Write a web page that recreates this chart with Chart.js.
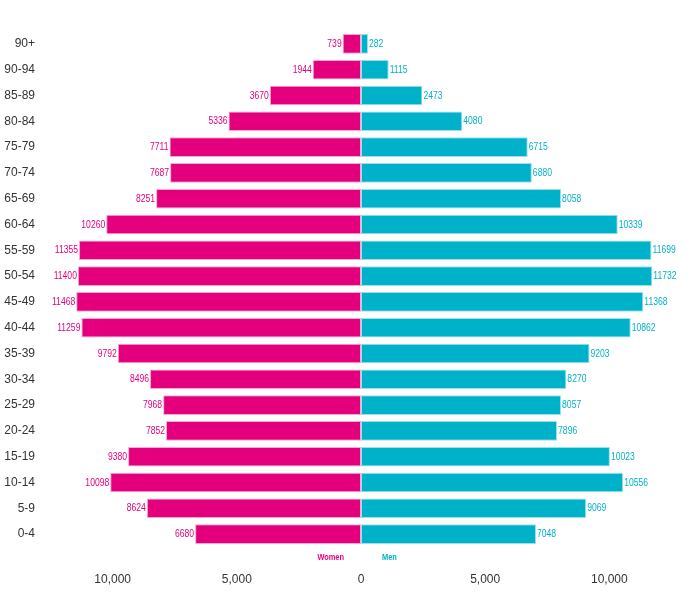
<!DOCTYPE html>
<html>
<head>
<meta charset="utf-8">
<script src="https://cdn.jsdelivr.net/npm/chart.js@4"></script>
<style>
html,body{margin:0;padding:0;background:#fff;}
#wrap{width:688px;height:595px;}
</style>
</head>
<body>
<div id="wrap"><canvas id="c" width="688" height="595"></canvas></div>
<script>
const ageGroups = ["90+","90-94","85-89","80-84","75-79","70-74","65-69","60-64","55-59","50-54","45-49","40-44","35-39","30-34","25-29","20-24","15-19","10-14","5-9","0-4"];
const women = [739,1944,3670,5336,7711,7687,8251,10260,11355,11400,11468,11259,9792,8496,7968,7852,9380,10098,8624,6680];
const men = [282,1115,2473,4080,6715,6880,8058,10339,11699,11732,11368,10862,9203,8270,8057,7896,10023,10556,9069,7048];
const xTicks = [-10000,-5000,0,5000,10000];
const seriesNames = ["Women","Men"];

const PINK = "#e4007c";
const TEAL = "#00b2c9";
const FONT = "'Liberation Sans Narrow','Arial Narrow','Liberation Sans',Arial,sans-serif";
const SQ = 0.78; // horizontal squeeze for condensed look of drawn labels

function narrowText(ctx, text, x, y, align) {
  ctx.save();
  ctx.translate(x, y);
  ctx.scale(SQ, 1);
  ctx.textAlign = align;
  ctx.fillText(text, 0, 0);
  ctx.restore();
}

const labelPlugin = {
  id: 'barLabels',
  afterDatasetsDraw(chart) {
    const ctx = chart.ctx;
    ctx.save();
    ctx.font = "11px " + FONT;
    ctx.textBaseline = 'middle';
    chart.data.datasets.forEach((ds, di) => {
      const meta = chart.getDatasetMeta(di);
      meta.data.forEach((bar, i) => {
        const v = ds.raw[i];
        ctx.fillStyle = di === 0 ? PINK : TEAL;
        if (di === 0) narrowText(ctx, String(v), bar.x - 1, bar.y, 'right');
        else narrowText(ctx, String(v), bar.x + 1, bar.y, 'left');
      });
    });
    const x0 = chart.scales.x.getPixelForValue(0);
    const y = chart.chartArea.bottom + 10;
    ctx.font = "bold 9.5px " + FONT;
    ctx.fillStyle = PINK;
    narrowText(ctx, seriesNames[0], x0 - 17, y, 'right');
    ctx.fillStyle = TEAL;
    narrowText(ctx, seriesNames[1], x0 + 21, y, 'left');
    ctx.restore();
  }
};

new Chart(document.getElementById('c'), {
  type: 'bar',
  data: {
    labels: ageGroups,
    datasets: [
      { label: seriesNames[0], data: women.map(v => -v), raw: women, backgroundColor: PINK, borderColor: '#f6a9d2', borderWidth: 1, borderSkipped: false, barPercentage: 0.76, categoryPercentage: 1 },
      { label: seriesNames[1], data: men, raw: men, backgroundColor: TEAL, borderColor: '#9ee0ea', borderWidth: 1, borderSkipped: false, barPercentage: 0.76, categoryPercentage: 1 }
    ]
  },
  options: {
    indexAxis: 'y',
    responsive: false,
    animation: false,
    layout: { padding: { top: 31, bottom: 8, left: 3, right: 29 } },
    plugins: { legend: { display: false }, tooltip: { enabled: false } },
    scales: {
      x: {
        stacked: true,
        min: -12000,
        max: 12000,
        afterBuildTicks: s => { s.ticks = xTicks.map(v => ({ value: v })); },
        afterFit: s => { s.height = 40; s.paddingLeft = 0; s.paddingRight = 0; },
        grid: { display: false, drawTicks: false },
        border: { display: false },
        ticks: {
          padding: 25,
          color: '#333',
          maxRotation: 0,
          font: { family: FONT, size: 12 },
          callback: v => Math.abs(v).toLocaleString('en-US')
        }
      },
      y: {
        stacked: true,
        grid: { display: false, drawTicks: false },
        border: { display: false },
        afterFit: s => { s.width = 60; s.paddingTop = 0; s.paddingBottom = 0; },
        ticks: {
          padding: 28,
          color: '#333',
          font: { family: FONT, size: 12 }
        }
      }
    }
  },
  plugins: [labelPlugin]
});
</script>
</body>
</html>
